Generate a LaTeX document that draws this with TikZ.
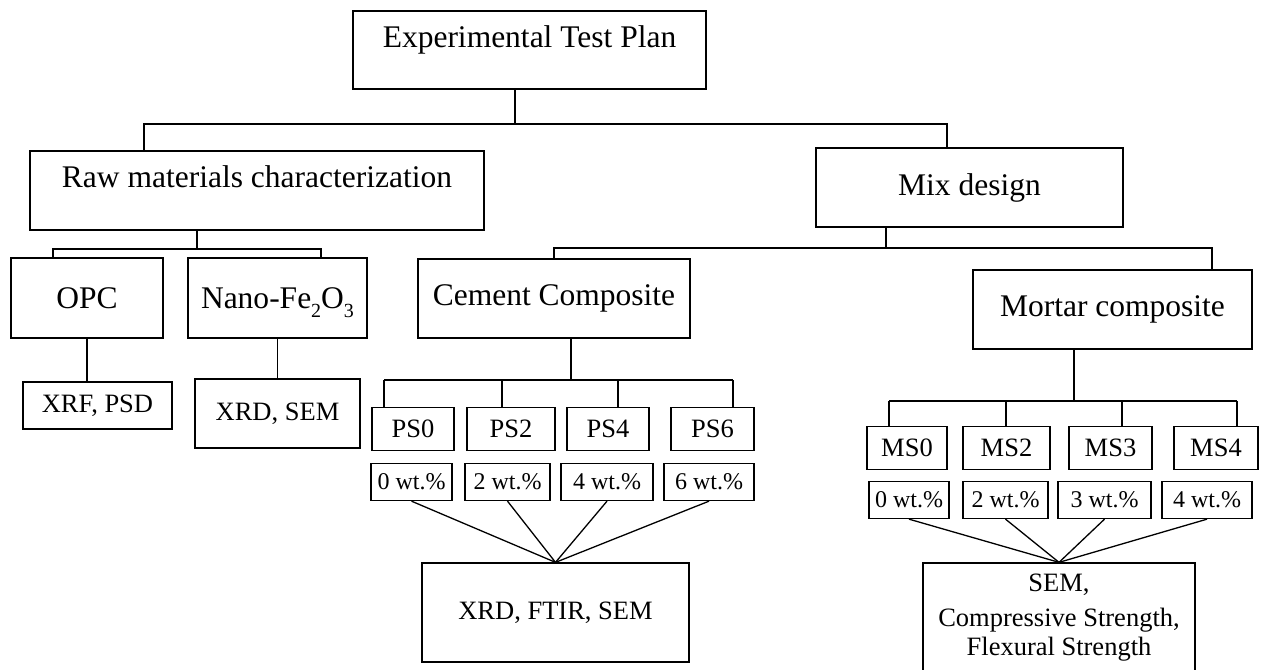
\documentclass[tikz,border=0pt]{standalone}
\usepackage{fontspec}
\setmainfont{Liberation Serif}

\newcommand{\lowsub}[1]{\raisebox{-4.5pt}{\fontsize{10}{12}\selectfont #1}}

\tikzset{
  box/.style={draw, line width=0.65pt, inner sep=0pt, align=center},
  boxsize/.style 2 args={minimum width=#1*0.5pt, minimum height=#2*0.5pt},
  bigbox/.style={box, font=\fontsize{15.75}{19}\selectfont},
  midbox/.style={box, font=\fontsize{13.25}{14.5}\selectfont},
  smallbox/.style={box, font=\fontsize{12}{14}\selectfont},
  headtext/.style={text height=11pt, text depth=13.75pt},
  wire/.style={line width=0.65pt},
  stem/.style={line width=1pt},
}

\begin{document}
\begin{tikzpicture}[x=0.5pt, y=-0.5pt]
  \useasboundingbox (0,0) rectangle (1261,669);

  % Top level
  \node[bigbox, headtext, boxsize={353}{78}] (plan) at (529.5,50) {Experimental Test Plan};
  \node[bigbox, headtext, boxsize={454}{79}] (raw) at (257,190.5) {Raw materials characterization};
  \node[bigbox, boxsize={307}{79}] (mix) at (969.5,187.5) {Mix design};

  \coordinate (j0) at (515,124);
  \coordinate (j0l) at (144,124);
  \coordinate (j0r) at (947,124);
  \draw[wire] (plan.south -| j0) -- (j0);
  \draw[wire] (raw.north -| j0l) -- (j0l) -- (j0r) -- (mix.north -| j0r);

  % Raw materials
  \node[bigbox, boxsize={152}{80}] (opc) at (87,298) {OPC};
  \node[bigbox, text depth=0pt, boxsize={179}{80}] (nano) at (277.5,298) {Nano-Fe\lowsub{2}O\lowsub{3}};
  \node[midbox, boxsize={149}{47}] (xrf) at (97.5,405.5) {XRF, PSD};
  \node[midbox, boxsize={165}{69}] (xrdsem) at (277.5,413.5) {XRD, SEM};

  \coordinate (j1) at (197,249);
  \coordinate (j1l) at (53,249);
  \coordinate (j1r) at (321,249);
  \draw[stem] (raw.south -| j1) -- (j1);
  \draw[wire] (opc.north -| j1l) -- (j1l) -- (j1r) -- (nano.north -| j1r);
  \draw[wire] (opc.south) -- (xrf.north -| opc.south);
  \draw[wire] (nano.south) -- (xrdsem.north -| nano.south);

  % Mix design
  \node[bigbox, boxsize={272}{79}] (cement) at (554,298.5) {Cement Composite};
  \node[bigbox, boxsize={279}{79}] (mortar) at (1112.5,309.5) {Mortar composite};

  \coordinate (j2) at (886,248);
  \coordinate (j2l) at (554,248);
  \coordinate (j2r) at (1212,248);
  \draw[stem] (mix.south -| j2) -- (j2);
  \draw[wire] (cement.north -| j2l) -- (j2l) -- (j2r) -- (mortar.north -| j2r);

  % Cement composite
  \foreach \n/\x/\w in {0/413/82, 2/511/88, 4/608/82, 6/712.5/83}
    \node[midbox, boxsize={\w}{43}] (ps\n) at (\x,429) {PS\n};
  \foreach \n/\x/\w in {0/411.5/81, 2/507.5/85, 4/607/92, 6/709/90}
    \node[smallbox, boxsize={\w}{37}] (pw\n) at (\x,482) {\n{} wt.\%};
  \node[midbox, boxsize={267}{99}] (pres) at (555.5,612.5) {XRD, FTIR, SEM};

  \coordinate (j3) at (571,380);
  \draw[stem] (cement.south -| j3) -- (j3);
  \foreach \n/\x in {0/384, 2/502, 4/618, 6/733} {
    \coordinate (k\n) at (\x,380);
    \draw[wire] (k\n) -- (ps\n.north -| k\n);
  }
  \draw[wire] (k0) -- (k6);
  \foreach \n in {0,2,4,6}
    \draw[wire] (pw\n.south) -- (pres.north);

  % Mortar composite
  \foreach \n/\x/\w in {0/907/80, 2/1006.5/87, 3/1110.5/83, 4/1216/84}
    \node[midbox, boxsize={\w}{43}] (ms\n) at (\x,448) {MS\n};
  \foreach \n/\x/\w in {0/909/80, 2/1005.5/85, 3/1104.5/93, 4/1207/90}
    \node[smallbox, boxsize={\w}{37}] (mw\n) at (\x,500) {\n{} wt.\%};
  \node[midbox, boxsize={272}{109}] (mres) at (1059,617.5) {SEM,\\[3pt]Compressive Strength,\\Flexural Strength};

  \coordinate (j4) at (1074,401);
  \draw[stem] (mortar.south -| j4) -- (j4);
  \foreach \n/\x in {0/889, 2/1006, 3/1122, 4/1237} {
    \coordinate (m\n) at (\x,401);
    \draw[wire] (m\n) -- (ms\n.north -| m\n);
  }
  \draw[wire] (m0) -- (m4);
  \foreach \n in {0,2,3,4}
    \draw[wire] (mw\n.south) -- (mres.north);
\end{tikzpicture}
\end{document}
